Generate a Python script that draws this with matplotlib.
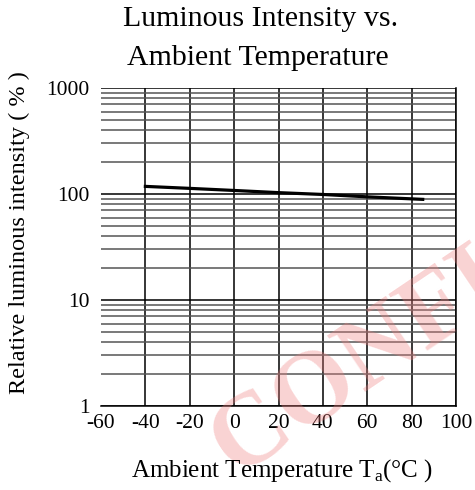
import matplotlib
matplotlib.use("Agg")
import matplotlib.pyplot as plt
import numpy as np

# data
temps = [-40, -20, 0, 20, 40, 60, 85]
intensity = [118, 113, 108, 103, 99, 94, 89]
x_ticks = [-60, -40, -20, 0, 20, 40, 60, 80, 100]
y_ticks = [1, 10, 100, 1000]

plt.rcParams['font.family'] = ['Liberation Serif', 'DejaVu Serif']
plt.rcParams['mathtext.fontset'] = 'custom'
plt.rcParams['mathtext.rm'] = 'Liberation Serif'

fig = plt.figure(figsize=(4.75, 4.9), dpi=100)
ax = fig.add_axes([101/475, 1 - 406/490, 355/475, 318/490])
ax.patch.set_alpha(0)

# faint watermark behind the chart
fig.text(0.41, -0.01, 'CONFI', fontsize=74, color='#f08080', alpha=0.35,
         rotation=34, ha='left', va='bottom', fontweight='bold', zorder=0,
         family='Liberation Serif', clip_on=True)

ax.set_yscale('log')
ax.set_xlim(-60, 100)
ax.set_ylim(1, 1000)

# grid: majors black, minors a bit lighter
for t in x_ticks[1:]:
    ax.axvline(t, color='black', lw=1.1, zorder=1)
for dec in [1, 10, 100]:
    for m in range(1, 10):
        v = dec * m
        ax.axhline(v, color='black' if m == 1 else '#555555', lw=1.1, zorder=1)
ax.axhline(1000, color='black', lw=1.1, zorder=1)

ax.plot(temps, intensity, color='black', lw=2.3, zorder=3)

ax.set_xticks(x_ticks)
ax.set_xticklabels([str(t) for t in x_ticks])
ax.set_yticks(y_ticks)
ax.set_yticklabels(['1', '10', '100', '1000'])
ax.minorticks_off()
ax.tick_params(axis='both', length=0, labelsize=15.5)
ax.tick_params(axis='x', pad=6)
ax.tick_params(axis='y', pad=8)

ax.spines['left'].set_visible(False)
ax.spines['top'].set_visible(False)
for s in ['bottom', 'right']:
    ax.spines[s].set_linewidth(1.1)

fig.text(261/475, 1 - 19/490, 'Luminous Intensity vs.', ha='center', va='center', fontsize=21.5)
fig.text(258/475, 1 - 58/490, 'Ambient Temperature', ha='center', va='center', fontsize=21.5)
fig.text(282/475, 1 - 471/490, r'Ambient Temperature T$_\mathrm{a}$(°C )', ha='center', va='center', fontsize=18)
fig.text(19/475, 1 - 233/490, 'Relative luminous intensity ( % )', ha='center', va='center',
         rotation=90, fontsize=17.5)

fig.savefig('out.png', dpi=100)
